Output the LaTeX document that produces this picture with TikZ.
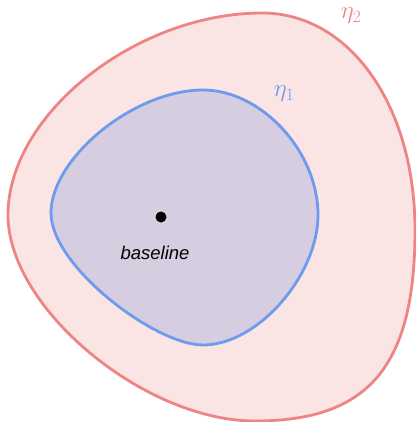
\documentclass[tikz,border=0pt]{standalone}
\usepackage{fontspec}
\newfontfamily\labelfont{Liberation Sans}
\definecolor{outerfill}{HTML}{FBE4E4}
\definecolor{outerline}{HTML}{EF8484}
\definecolor{innerfill}{HTML}{D6CDE0}
\definecolor{innerline}{HTML}{6D9BEE}
\tikzset{
  region/.style={line width=2.8pt, line join=round},
  etalabel/.style={inner sep=0pt, font=\fontsize{25}{27}\selectfont},
}
\begin{document}
\begin{tikzpicture}[x=1pt,y=-1pt]
\useasboundingbox (0,0) rectangle (416,422);
\begin{scope}
\clip (0,0) rectangle (416,422);
% outer region
\draw[region, draw=outerline, fill=outerfill]
  (8,215) .. controls (8,114) and (136.5,13) .. (262,13)
          .. controls (350,13) and (415,106) .. (415,230)
          .. controls (415,366) and (369,421) .. (255,421)
          .. controls (144,421) and (8,308) .. (8,215) -- cycle;
\end{scope}
% inner region
\draw[region, draw=innerline, fill=innerfill]
  (51,213) .. controls (51,158) and (134,90) .. (203,90)
           .. controls (261,90) and (318,151) .. (318,215)
           .. controls (318,275) and (258,345) .. (203,345)
           .. controls (155,345) and (51,266) .. (51,213) -- cycle;
\node[circle, fill=black, inner sep=0pt, minimum size=11pt] (base) at (161,217) {};
\node[inner sep=0pt, font=\labelfont\itshape\fontsize{18.5}{20}\selectfont, anchor=base] (baselbl) at (155,259) {baseline};
\node[etalabel, text=outerline] (eta2) at (351,16) {$\eta_2$};
\node[etalabel, text=innerline] (eta1) at (284,94) {$\eta_1$};
\end{tikzpicture}
\end{document}
